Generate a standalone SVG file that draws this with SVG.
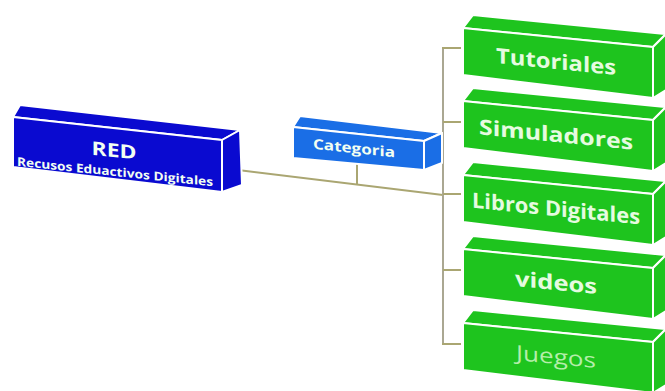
<svg xmlns="http://www.w3.org/2000/svg" width="665" height="391" viewBox="0 0 665 391">
<style>
.c{stroke:#aaa672;stroke-width:2;fill:none}
.b polygon{stroke:#ffffff;stroke-width:2;stroke-linejoin:round}
.red polygon{fill:#0a0ad0}
.cat polygon{fill:#1a6ee6}
.g polygon{fill:#1ec41e}
.t{font-family:"Open Sans","Liberation Sans",sans-serif;font-weight:bold;text-anchor:middle;fill:#f2fff2}
.gt{font-size:21px;fill:#e6fbe0}
</style>
<rect width="665" height="391" fill="#ffffff"/>
<g id="connectors">
<line class="c" x1="222" y1="168" x2="443" y2="195"/>
<line class="c" x1="357" y1="164" x2="357" y2="185"/>
<line class="c" x1="443" y1="47" x2="443" y2="345" style="stroke:#aaa792"/>
<line class="c" x1="442" y1="48" x2="461" y2="48"/>
<line class="c" x1="443" y1="122" x2="461" y2="122"/>
<line class="c" x1="443" y1="194" x2="461" y2="194"/>
<line class="c" x1="443" y1="270" x2="461" y2="270"/>
<line class="c" x1="442" y1="344" x2="461" y2="344"/>
</g>
<g id="red" class="b red">
<polygon points="13,117 20,105 240,130 222,140"/>
<polygon points="222,140 240,130 242,185 222,192"/>
<polygon points="13,117 222,140 222,192 13,167"/>
<g transform="translate(114,157) skewY(6)"><text class="t" font-size="19" textLength="45" lengthAdjust="spacingAndGlyphs">RED</text></g>
<g transform="translate(115,176) skewY(6)"><text class="t" font-size="12" textLength="196" lengthAdjust="spacingAndGlyphs">Recusos Eduactivos Digitales</text></g>
</g>
<g id="categoria" class="b cat">
<polygon points="293,127 300,116 442,133 424,141"/>
<polygon points="424,141 442,133 442,163 424,170"/>
<polygon points="293,127 424,141 424,170 293,158"/>
<g transform="translate(354,153) skewY(6)"><text class="t" font-size="14" textLength="82" lengthAdjust="spacingAndGlyphs">Categoria</text></g>
</g>
<g id="tutoriales" class="b g" transform="translate(0,28)">
<polygon points="463,0 473,-13 666,6 653,19"/>
<polygon points="653,19 666,6 666,62 653,70"/>
<polygon points="463,0 653,19 653,70 463,47"/>
<g transform="translate(556,41) skewY(5.7)"><text class="t gt" textLength="120" lengthAdjust="spacingAndGlyphs">Tutoriales</text></g>
</g>
<g id="simuladores" class="b g" transform="translate(0,101)">
<polygon points="463,0 473,-13 666,6 653,19"/>
<polygon points="653,19 666,6 666,62 653,70"/>
<polygon points="463,0 653,19 653,70 463,47"/>
<g transform="translate(556,41) skewY(5.7)"><text class="t gt" textLength="154" lengthAdjust="spacingAndGlyphs">Simuladores</text></g>
</g>
<g id="libros" class="b g" transform="translate(0,175)">
<polygon points="463,0 473,-13 666,6 653,19"/>
<polygon points="653,19 666,6 666,62 653,70"/>
<polygon points="463,0 653,19 653,70 463,47"/>
<g transform="translate(556,41) skewY(5.7)"><text class="t gt" textLength="168" lengthAdjust="spacingAndGlyphs">Libros Digitales</text></g>
</g>
<g id="videos" class="b g" transform="translate(0,249)">
<polygon points="463,0 473,-13 666,6 653,19"/>
<polygon points="653,19 666,6 666,62 653,70"/>
<polygon points="463,0 653,19 653,70 463,47"/>
<g transform="translate(556,41) skewY(5.7)"><text class="t gt" textLength="82" lengthAdjust="spacingAndGlyphs">videos</text></g>
</g>
<g id="juegos" class="b g" transform="translate(0,323)">
<polygon points="463,0 473,-13 666,6 653,19"/>
<polygon points="653,19 666,6 666,62 653,70"/>
<polygon points="463,0 653,19 653,70 463,47"/>
<g transform="translate(556,41) skewY(5.7)"><text class="t gt" textLength="80" lengthAdjust="spacingAndGlyphs" style="font-weight:normal;fill:#b4eeaa">Juegos</text></g>
</g>
</svg>
